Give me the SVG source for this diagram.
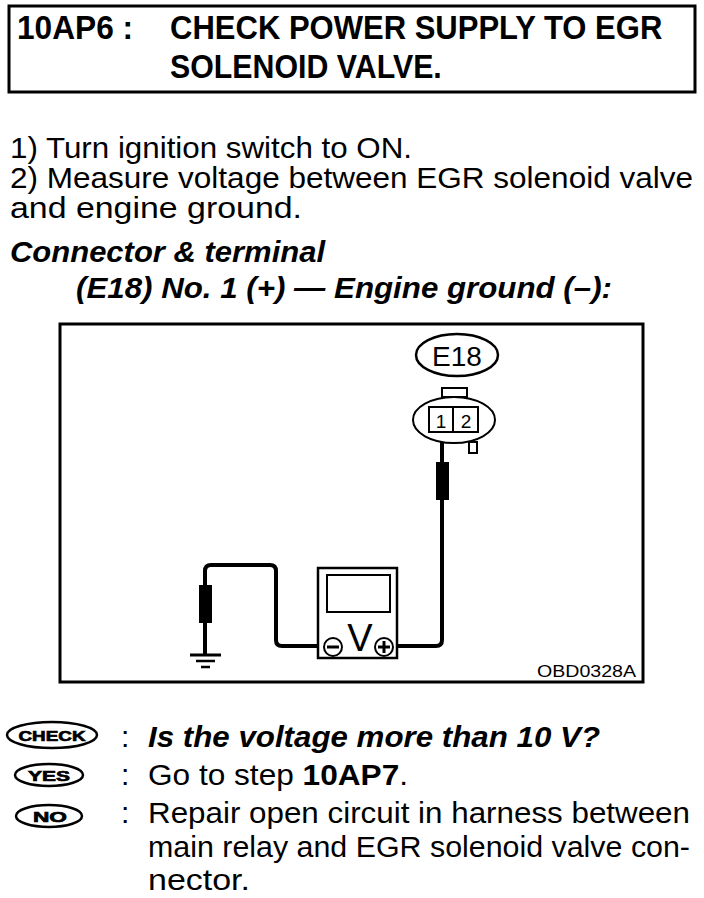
<svg xmlns="http://www.w3.org/2000/svg" width="704" height="898" viewBox="0 0 704 898">
<style>
.hd{font-family:"Liberation Sans",Arial,sans-serif;font-weight:bold;font-size:34px;fill:#000}
.tx{font-family:"Liberation Sans",Arial,sans-serif;font-size:30px;fill:#000}
.st{font-family:"Liberation Sans",Arial,sans-serif;font-size:29.5px;fill:#000}
.bi{font-family:"Liberation Sans",Arial,sans-serif;font-size:30px;font-weight:bold;font-style:italic;fill:#000}
.b{font-weight:bold}
.ln{fill:none;stroke:#000;stroke-width:2.5}
.wire{fill:none;stroke:#000;stroke-width:4;stroke-linejoin:round}
.ic{font-family:"Liberation Sans",Arial,sans-serif;font-weight:bold;font-size:15px;fill:#000;stroke:#000;stroke-width:0.7;text-anchor:middle}
</style>
<rect width="704" height="898" fill="#fff"/>
<g id="header">
<rect x="9" y="6" width="686" height="86" fill="none" stroke="#000" stroke-width="3"/>
<text class="hd" transform="translate(17,39) scale(0.9,1)" x="0" y="0" textLength="129" lengthAdjust="spacingAndGlyphs">10AP6 :</text>
<text class="hd" transform="translate(170,39) scale(0.9,1)" x="0" y="0" textLength="547" lengthAdjust="spacingAndGlyphs">CHECK POWER SUPPLY TO EGR</text>
<text class="hd" transform="translate(170,78) scale(0.9,1)" x="0" y="0" textLength="302" lengthAdjust="spacingAndGlyphs">SOLENOID VALVE.</text>
</g>
<g id="steps">
<text class="st" x="10" y="158" textLength="402" lengthAdjust="spacingAndGlyphs">1)  Turn ignition switch to ON.</text>
<text class="st" x="10" y="188" textLength="683" lengthAdjust="spacingAndGlyphs">2)  Measure voltage between EGR solenoid valve</text>
<text class="st" x="10" y="218" textLength="292" lengthAdjust="spacingAndGlyphs">and engine ground.</text>
<text class="bi" x="10" y="262" textLength="315" lengthAdjust="spacingAndGlyphs">Connector &amp; terminal</text>
<text class="bi" x="76" y="298" textLength="536" lengthAdjust="spacingAndGlyphs">(E18) No. 1 (+) — Engine ground (–):</text>
</g>
<g id="figure">
<rect x="60" y="324" width="583" height="358" fill="none" stroke="#000" stroke-width="3"/>
<text x="636" y="677" font-family="Liberation Sans,Arial,sans-serif" font-size="17" text-anchor="end" textLength="99" lengthAdjust="spacingAndGlyphs">OBD0328A</text>
</g>
<g id="connectors">
<path class="wire" d="M205,655 V571 Q205,565 211,565 H270 Q276,565 276,571 V640 Q276,646 282,646 H324"/>
<path class="wire" d="M393,646 H436 Q442,646 442,640 V432"/>
</g>
<g id="e18-label">
<ellipse cx="457" cy="355" rx="41" ry="21" class="ln" stroke-width="2"/>
<text x="457" y="366" font-family="Liberation Sans,Arial,sans-serif" font-size="28" text-anchor="middle">E18</text>
</g>
<g id="connector-e18">
<rect x="442" y="388" width="25" height="9" fill="#fff" stroke="#000" stroke-width="2"/>
<ellipse cx="454" cy="420" rx="41" ry="23" fill="#fff" stroke="#000" stroke-width="2"/>
<rect x="469" y="442" width="8" height="11" fill="#fff" stroke="#000" stroke-width="2"/>
<rect x="429" y="407" width="49" height="25" fill="#fff" stroke="#000" stroke-width="2"/>
<line x1="453" y1="407" x2="453" y2="432" stroke="#000" stroke-width="2"/>
<text x="441" y="428" font-family="Liberation Sans,Arial,sans-serif" font-size="19" text-anchor="middle">1</text>
<text x="466" y="428" font-family="Liberation Sans,Arial,sans-serif" font-size="19" text-anchor="middle">2</text>
</g>
<g id="probe-positive">
<rect x="436" y="462" width="13" height="38" fill="#000"/>
</g>
<g id="probe-negative">
<rect x="199" y="585" width="13" height="38" fill="#000"/>
</g>
<g id="ground">
<line x1="190" y1="655" x2="221" y2="655" stroke="#000" stroke-width="3"/>
<line x1="196" y1="661" x2="215" y2="661" stroke="#000" stroke-width="2.5"/>
<line x1="201" y1="667" x2="210" y2="667" stroke="#000" stroke-width="2.5"/>
</g>
<g id="voltmeter">
<rect x="318" y="568" width="79" height="90" fill="#fff" stroke="#000" stroke-width="2.5"/>
<rect x="327" y="575" width="63" height="37" fill="none" stroke="#000" stroke-width="2"/>
<text x="360" y="651" font-family="Liberation Sans,Arial,sans-serif" font-size="38" text-anchor="middle">V</text>
<circle cx="333" cy="647" r="9" fill="#fff" stroke="#000" stroke-width="2"/>
<line x1="327" y1="647" x2="339" y2="647" stroke="#000" stroke-width="3"/>
<circle cx="384" cy="647" r="9" fill="#fff" stroke="#000" stroke-width="2"/>
<line x1="378" y1="647" x2="390" y2="647" stroke="#000" stroke-width="3"/>
<line x1="384" y1="641" x2="384" y2="653" stroke="#000" stroke-width="3"/>
</g>
<g id="check">
<ellipse cx="52" cy="735" rx="45" ry="13" class="ln"/>
<text class="ic" x="52" y="741" textLength="67" lengthAdjust="spacingAndGlyphs">CHECK</text>
<text class="tx" x="121" y="747">:</text>
<text class="bi" x="148" y="747" textLength="452" lengthAdjust="spacingAndGlyphs">Is the voltage more than 10 V?</text>
</g>
<g id="yes">
<ellipse cx="49" cy="775" rx="34" ry="11" class="ln"/>
<text class="ic" x="49" y="781" textLength="42" lengthAdjust="spacingAndGlyphs">YES</text>
<text class="tx" x="121" y="785">:</text>
<text class="tx" x="148" y="785" textLength="260" lengthAdjust="spacingAndGlyphs">Go to step <tspan class="b">10AP7</tspan>.</text>
</g>
<g id="no">
<ellipse cx="49" cy="816" rx="33" ry="11" class="ln"/>
<text class="ic" x="50" y="822" textLength="34" lengthAdjust="spacingAndGlyphs">NO</text>
<text class="tx" x="121" y="823">:</text>
<text class="tx" x="148" y="823" textLength="542" lengthAdjust="spacingAndGlyphs">Repair open circuit in harness between</text>
<text class="tx" x="148" y="857" textLength="542" lengthAdjust="spacingAndGlyphs">main relay and EGR solenoid valve con-</text>
<text class="tx" x="148" y="890" textLength="102" lengthAdjust="spacingAndGlyphs">nector.</text>
</g>
</svg>
